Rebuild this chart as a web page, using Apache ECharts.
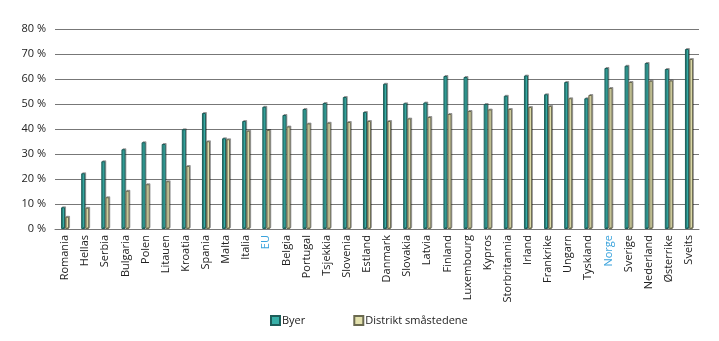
<!DOCTYPE html>
<html><head><meta charset="utf-8">
<script src="https://cdn.jsdelivr.net/npm/echarts@6/dist/echarts.min.js"></script>
<style>html,body{margin:0;padding:0;background:#fff}#c{width:719px;height:341px}</style>
</head><body><div id="c"></div>
<script>
const categories = ["Romania","Hellas","Serbia","Bulgaria","Polen","Litauen","Kroatia","Spania","Malta","Italia","EU","Belgia","Portugal","Tsjekkia","Slovenia","Estland","Danmark","Slovakia","Latvia","Finland","Luxembourg","Kypros","Storbritannia","Irland","Frankrike","Ungarn","Tyskland","Norge","Sverige","Nederland","Østerrike","Sveits"];
const byer = [8.7,22.3,27.1,31.9,34.7,34.0,39.9,46.4,36.3,43.2,48.9,45.6,48.0,50.4,52.8,46.8,58.1,50.3,50.6,61.2,60.8,50.0,53.3,61.4,53.9,58.8,52.3,64.4,65.3,66.4,64.0,72.0];
const distrikt = [4.9,8.5,12.7,15.3,17.9,19.1,25.2,35.1,35.9,39.3,39.6,41.0,42.2,42.5,42.8,43.2,43.2,44.2,44.8,46.0,47.2,47.8,48.0,48.8,49.2,52.3,53.6,56.4,58.8,59.3,59.4,68.0];
const yTicks = [0,10,20,30,40,50,60,70,80];
const highlighted = ["EU","Norge"];
const font = "'Open Sans', sans-serif";
const chart = echarts.init(document.getElementById('c'));
chart.setOption({
  animation:false,
  grid:{left:55,right:20,top:29,bottom:112},
  legend:{
    left:265, top:310, itemWidth:9, itemHeight:9, itemGap:48, icon:'rect',
    textStyle:{fontFamily:font,fontSize:11,color:'#222',padding:[0,0,0,-3]},
    data:['Byer','Distrikt småstedene']
  },
  xAxis:{
    type:'category', data:categories,
    axisLine:{show:true,lineStyle:{color:'#777',width:1}},
    axisTick:{show:false},
    axisLabel:{
      interval:0, rotate:90, margin:6, fontFamily:font, fontSize:11, color:'#222',
      formatter:v=> highlighted.includes(v) ? '{h|'+v+'}' : v,
      rich:{h:{color:'#3aa3dc',fontFamily:font,fontSize:11}}
    }
  },
  yAxis:{
    type:'value', min:yTicks[0], max:yTicks[yTicks.length-1], interval:10,
    axisLine:{show:false}, axisTick:{show:false},
    axisLabel:{fontFamily:font,fontSize:11,color:'#222',margin:9,formatter:v=>v+' %'},
    splitLine:{lineStyle:{color:'#777',width:1}}
  },
  series:[
    {name:'Byer',type:'bar',data:byer,barWidth:4,barGap:'0%',
     itemStyle:{color:'#38b0a8',borderColor:'#1d5e5a',borderWidth:1,shadowColor:'rgba(0,0,0,0.3)',shadowOffsetX:1,shadowOffsetY:-1}},
    {name:'Distrikt småstedene',type:'bar',data:distrikt,barWidth:4,
     itemStyle:{color:'#e3e1ad',borderColor:'#6b6a50',borderWidth:1,shadowColor:'rgba(0,0,0,0.3)',shadowOffsetX:1,shadowOffsetY:-1}}
  ]
});
</script></body></html>
